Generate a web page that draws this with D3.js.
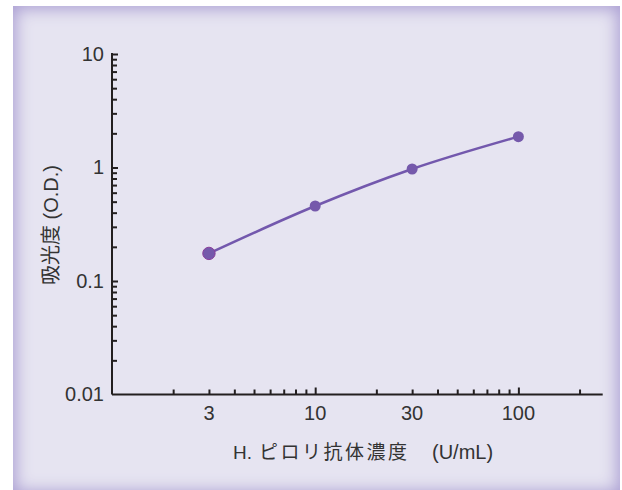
<!DOCTYPE html>
<html><head><meta charset="utf-8">
<script src="https://cdn.jsdelivr.net/npm/d3@7"></script>
<style>
html,body{margin:0;padding:0;background:#fff;}
#panel{position:absolute;left:13px;top:6px;width:607px;height:488px;background:#e6e4f1;box-shadow:inset 0 0 16px 3px #ab9fd3;}
svg{position:absolute;left:0;top:0;}
text{font-family:"Liberation Sans",Arial,"Noto Sans CJK JP",sans-serif;fill:#333;}
</style></head>
<body>
<div id="panel"></div>
<svg id="chart" width="622" height="490"></svg>
<script>
const concentrations = [3, 10, 30, 100];
const absorbance = [0.175, 0.458, 0.97, 1.87];
const xTickLabels = [3, 10, 30, 100];
const yTickLabels = [0.01, 0.1, 1, 10];
const xTitleParts = ["H.", "ピロリ抗体濃度", "(U/mL)"];
const yTitle = "吸光度 (O.D.)";

(function () {
const svg = d3.select("#chart");
const mLeft = 112, mRight = 602.7, mTop = 54, mBottom = 394.5;
const x = d3.scaleLog().domain([1, 260]).range([mLeft, mRight]);
const y = d3.scaleLog().domain([0.01, 10]).range([mBottom, mTop]);

const axisColor = "#231f20";

const xMinor = [];
for (const d of [1, 10, 100]) for (let k = 2; k <= 9; k++) { const v = d * k; if (v <= 260 && v !== 3 && v !== 30) xMinor.push(v); }
const yMinor = [];
for (const d of [0.01, 0.1, 1]) for (let k = 2; k <= 9; k++) yMinor.push(d * k);

// X axis
const gx = svg.append("g").attr("transform", `translate(0,${mBottom})`);
gx.call(d3.axisBottom(x).tickValues(xMinor).tickSizeInner(-5).tickSizeOuter(0).tickFormat(""));
gx.append("g").call(d3.axisBottom(x).tickValues([10, 100]).tickSizeInner(-7).tickSizeOuter(0).tickFormat(""));
gx.append("g").call(d3.axisBottom(x).tickValues([3, 30]).tickSizeInner(-5).tickSizeOuter(0).tickFormat(""));
gx.selectAll("g > g > path.domain").remove();
gx.select("path.domain").attr("d", `M${mLeft},0H${mRight}`);
gx.selectAll("path,line").attr("stroke", axisColor).attr("stroke-width", 2);

svg.append("g").selectAll("text").data(xTickLabels).join("text")
  .attr("x", d => x(d)).attr("y", mBottom + 25)
  .attr("text-anchor", "middle").attr("font-size", 20).text(d => d);

// Y axis
const gy = svg.append("g").attr("transform", `translate(${mLeft},0)`);
gy.call(d3.axisLeft(y).tickValues(yMinor).tickSizeInner(-5).tickSizeOuter(0).tickFormat(""));
gy.append("g").call(d3.axisLeft(y).tickValues([0.1, 1, 10]).tickSizeInner(-6).tickSizeOuter(0).tickFormat(""));
gy.selectAll("g > g > path.domain").remove();
gy.select("path.domain").attr("d", `M0,${mTop - 1}V${mBottom}`);
gy.selectAll("path,line").attr("stroke", axisColor).attr("stroke-width", 2);

svg.append("g").selectAll("text").data(yTickLabels).join("text")
  .attr("x", mLeft - 8).attr("y", d => y(d) + 6.5)
  .attr("text-anchor", "end").attr("font-size", 20).text(d => d);

// X title
const xt = svg.append("g").attr("font-size", 19);
xt.append("text").attr("x", 233).attr("y", 458.5).text(xTitleParts[0]);
xt.append("text").attr("x", 259).attr("y", 458.5)
  .attr("textLength", 148).attr("lengthAdjust", "spacing").text(xTitleParts[1]);
xt.append("text").attr("x", 432).attr("y", 458.5).attr("font-size", 20).text(xTitleParts[2]);

// Y title
svg.append("text").attr("transform", "translate(58,225) rotate(-90)").attr("text-anchor", "middle")
  .attr("font-size", 20).text(yTitle);

const data = concentrations.map((c, i) => ({c, v: absorbance[i]}));
const line = d3.line().x(d => x(d.c)).y(d => y(d.v)).curve(d3.curveMonotoneX);
svg.append("path").datum(data).attr("d", line)
  .attr("fill", "none").attr("stroke", "#7358ad").attr("stroke-width", 2.5);
svg.append("g").selectAll("circle").data(data).join("circle")
  .attr("cx", d => x(d.c)).attr("cy", d => y(d.v))
  .attr("r", (d, i) => i === 0 ? 6.2 : 5.5)
  .attr("fill", "#7559ab")
  .attr("stroke", (d, i) => i === 0 ? "#8a3f9c" : "none")
  .attr("stroke-width", 1);
})();
</script>
</body></html>
